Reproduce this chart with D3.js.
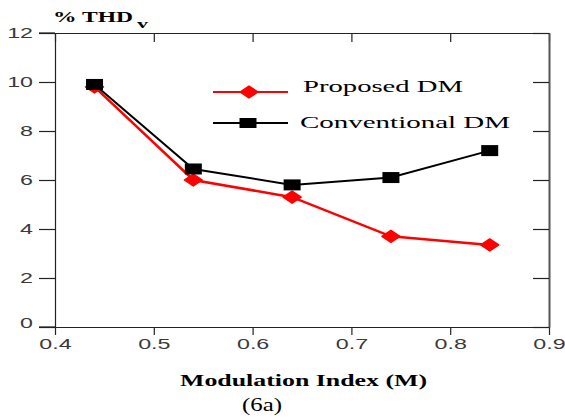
<!DOCTYPE html>
<html>
<head>
<meta charset="utf-8">
<script src="https://cdn.jsdelivr.net/npm/d3@7"></script>
<style>
  html, body { margin: 0; padding: 0; background: #fff; }
  svg { display: block; }
</style>
</head>
<body>
<svg id="chart" width="565" height="419"></svg>
<script>
const mIndex = [0.44, 0.54, 0.64, 0.74, 0.84];
const proposedDM = [9.8, 6.0, 5.3, 3.7, 3.35];
const conventionalDM = [9.9, 6.45, 5.8, 6.1, 7.2];
const xTicks = [0.4, 0.5, 0.6, 0.7, 0.8, 0.9];
const yTicks = [0, 2, 4, 6, 8, 10, 12];
const seriesNames = ["Proposed DM", "Conventional DM"];
const seriesColors = ["#ff0000", "#000000"];

const svg = d3.select("#chart");
const x = d3.scaleLinear().domain([0.4, 0.9]).range([55, 549]);
const y = d3.scaleLinear().domain([0, 12]).range([327, 33]);

const sans = "'Liberation Sans', Arial, sans-serif";
const serif = "'Liberation Serif', 'Times New Roman', serif";

function stretch(sel, f) {
  sel.each(function() {
    const w = this.getComputedTextLength();
    this.setAttribute("textLength", w * f);
    this.setAttribute("lengthAdjust", "spacingAndGlyphs");
  });
}

// Axes
const gLeft = svg.append("g").attr("transform", "translate(55,0)")
  .call(d3.axisLeft(y).tickValues(yTicks).tickSize(16).tickPadding(6).tickSizeOuter(0).tickFormat(d3.format("d")));
const gBottom = svg.append("g").attr("transform", "translate(0,327)")
  .call(d3.axisBottom(x).tickValues(xTicks).tickSize(8).tickPadding(3).tickSizeOuter(0).tickFormat(d3.format(".1f")));
const gTop = svg.append("g").attr("transform", "translate(0,33)")
  .call(d3.axisBottom(x).tickValues(xTicks).tickSize(9).tickSizeOuter(0).tickFormat(""));
const gRight = svg.append("g").attr("transform", "translate(549,0)")
  .call(d3.axisRight(y).tickValues(yTicks).tickSize(-16).tickSizeOuter(0).tickFormat(""));

[gLeft, gBottom, gTop, gRight].forEach(g => {
  g.selectAll("path.domain").attr("stroke", "#222").attr("stroke-width", 1.2);
  g.selectAll(".tick line").attr("stroke", "#222").attr("stroke-width", 1.2);
});
gRight.select("path.domain").attr("stroke", "#555").attr("stroke-width", 2);
svg.append("line").attr("x1", 39).attr("x2", 55).attr("y1", y(12)).attr("y2", y(12)).attr("stroke", "#222").attr("stroke-width", 1.2);
svg.append("line").attr("x1", 39).attr("x2", 55).attr("y1", y(0)).attr("y2", y(0)).attr("stroke", "#222").attr("stroke-width", 1.2);

[gLeft, gBottom].forEach(g => {
  g.selectAll(".tick text").attr("font-family", sans).attr("font-size", 15).attr("fill", "#3a3a3a");
  stretch(g.selectAll(".tick text"), 1.55);
});
gLeft.selectAll(".tick text").filter(d => d === 0).attr("dy", "0.05em");

// Lines
const line = d3.line().x(d => x(d[0])).y(d => y(d[1]));
const propData = mIndex.map((m, i) => [m, proposedDM[i]]);
const convData = mIndex.map((m, i) => [m, conventionalDM[i]]);

const diamond = "M0,-6L9,0L0,6L-9,0Z";

svg.append("path").datum(propData).attr("d", line)
  .attr("fill", "none").attr("stroke", seriesColors[0]).attr("stroke-width", 2.5);
svg.selectAll(".dm").data(propData).enter().append("path")
  .attr("d", diamond).attr("transform", d => `translate(${x(d[0])},${y(d[1])})`)
  .attr("fill", seriesColors[0]).attr("stroke", seriesColors[0]).attr("stroke-width", 1.5).attr("stroke-linejoin", "round");

svg.append("path").datum(convData).attr("d", line)
  .attr("fill", "none").attr("stroke", seriesColors[1]).attr("stroke-width", 2);
svg.selectAll(".sq").data(convData).enter().append("rect")
  .attr("x", d => x(d[0]) - 8.5).attr("y", d => y(d[1]) - 5.5)
  .attr("width", 17).attr("height", 11).attr("fill", seriesColors[1]);

// Legend
const legY = [92, 123];
seriesNames.forEach((name, i) => {
  svg.append("line").attr("x1", 213).attr("x2", 288).attr("y1", legY[i]).attr("y2", legY[i])
    .attr("stroke", seriesColors[i]).attr("stroke-width", 2);
});
svg.append("path").attr("d", diamond).attr("transform", `translate(249,${legY[0]})`)
  .attr("fill", seriesColors[0]).attr("stroke", seriesColors[0]).attr("stroke-width", 1.5).attr("stroke-linejoin", "round");
svg.append("rect").attr("x", 248 - 8.5).attr("y", legY[1] - 5).attr("width", 17).attr("height", 10).attr("fill", seriesColors[1]);

svg.append("text").attr("x", 303).attr("y", 92).attr("font-family", serif).attr("font-size", 17)
  .attr("textLength", 160).attr("lengthAdjust", "spacingAndGlyphs").text(seriesNames[0]);
svg.append("text").attr("x", 300).attr("y", 128).attr("font-family", serif).attr("font-size", 17)
  .attr("textLength", 210).attr("lengthAdjust", "spacingAndGlyphs").text(seriesNames[1]);

// Y title
svg.append("text").attr("x", 53).attr("y", 22).attr("font-family", serif)
  .attr("font-weight", "bold").attr("font-size", 15)
  .attr("textLength", 80).attr("lengthAdjust", "spacingAndGlyphs").text("% THD");
svg.append("text").attr("x", 137).attr("y", 28).attr("font-family", serif).attr("font-weight", "bold")
  .attr("font-size", 13).attr("textLength", 11).attr("lengthAdjust", "spacingAndGlyphs").text("v");

// X title
svg.append("text").attr("x", 180).attr("y", 386).attr("font-family", serif).attr("font-weight", "bold")
  .attr("font-size", 16).attr("textLength", 247).attr("lengthAdjust", "spacingAndGlyphs").text("Modulation Index (M)");
svg.append("text").attr("x", 242).attr("y", 411).attr("font-family", serif)
  .attr("font-size", 19).attr("textLength", 40).attr("lengthAdjust", "spacingAndGlyphs").text("(6a)");
</script>
</body>
</html>
